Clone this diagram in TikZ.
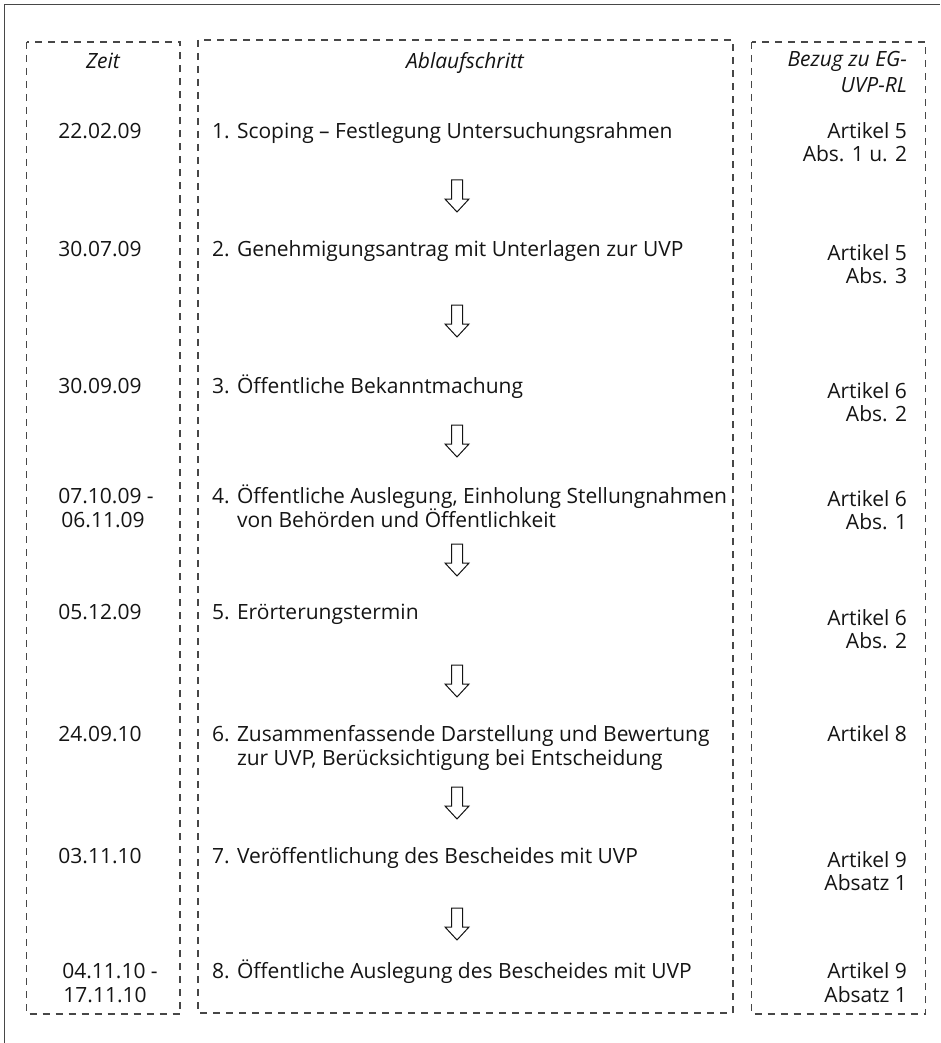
\documentclass[tikz,border=0pt]{standalone}
\usepackage{fontspec}
\setmainfont{Open Sans}
\begin{document}
\begin{tikzpicture}[x=1pt,y=-1pt,
  every node/.style={inner sep=0pt,outer sep=0pt,text=black!92,font=\fontsize{21}{24}\selectfont},
  colbox/.style={draw=black!72,line width=1.2pt,dash pattern=on 7pt off 6pt},
  frame/.style={draw=black!72,line width=1.6pt},
  hdr/.style={font=\fontsize{21}{24}\selectfont\itshape},
  datum/.style={anchor=base},
  nr/.style={anchor=base west},
  schritt/.style={anchor=base west},
  bezug/.style={anchor=base east},
  blockarrow/.style={draw=black!92,line width=1pt,fill=white,line join=miter}]
\useasboundingbox (0,0) rectangle (940,1043);
% outer frame (cut by the page edge)
\draw[frame] (4.5,1043) -- (4.5,4.5) -- (940,4.5);
% column boxes
\draw[colbox] (26.5,42) rectangle (180,1014);
\draw[colbox] (198,40) rectangle (733,1013);
\draw[colbox] (751.5,42) rectangle (925.5,1014);
% headers
\node[hdr,anchor=base] (hz) at (103,69) {Zeit};
\node[hdr,anchor=base] (ha) at (465,69) {Ablaufschritt};
\node[hdr,anchor=base east] (hb1) at (907,67) {Bezug zu EG-};
\node[hdr,anchor=base east] (hb2) at (907,93) {UVP-RL};
% dates
\node[datum] (d1) at (100,138.5) {22.02.09};
\node[datum] (d2) at (100,256.5) {30.07.09};
\node[datum] (d3) at (100,393.5) {30.09.09};
\node[datum] (d4a) at (106,503.5) {07.10.09 -};
\node[datum] (d4b) at (103,527) {06.11.09};
\node[datum] (d5) at (100,619.5) {05.12.09};
\node[datum] (d6) at (100,741.5) {24.09.10};
\node[datum] (d7) at (100,863.5) {03.11.10};
\node[datum] (d8a) at (110,978.5) {04.11.10 -};
\node[datum] (d8b) at (105,1002) {17.11.10};
% step numbers
\node[nr] (n1) at (212,138.5) {1.};
\node[nr] (n2) at (212,256.5) {2.};
\node[nr] (n3) at (212,393.5) {3.};
\node[nr] (n4) at (212,503.5) {4.};
\node[nr] (n5) at (212,619.5) {5.};
\node[nr] (n6) at (212,741.5) {6.};
\node[nr] (n7) at (212,863.5) {7.};
\node[nr] (n8) at (212,978.5) {8.};
% step texts
\node[schritt] (s1) at (237,138.5) {Scoping – Festlegung Untersuchungsrahmen};
\node[schritt] (s2) at (237,256.5) {Genehmigungsantrag mit Unterlagen zur UVP};
\node[schritt] (s3) at (237,393.5) {Öffentliche Bekanntmachung};
\node[schritt] (s4a) at (237,503.5) {Öffentliche Auslegung, Einholung Stellungnahmen};
\node[schritt] (s4b) at (237,527) {von Behörden und Öffentlichkeit};
\node[schritt] (s5) at (237,619.5) {Erörterungstermin};
\node[schritt] (s6a) at (237,741.5) {Zusammenfassende Darstellung und Bewertung};
\node[schritt] (s6b) at (237,765) {zur UVP, Berücksichtigung bei Entscheidung};
\node[schritt] (s7) at (237,863.5) {Veröffentlichung des Bescheides mit UVP};
\node[schritt] (s8) at (237,978.5) {Öffentliche Auslegung des Bescheides mit UVP};
% references
\node[bezug] (b1a) at (907,138.5) {Artikel 5};
\node[bezug] (b1b) at (907,161) {Abs. 1 u. 2};
\node[bezug] (b2a) at (907,260.5) {Artikel 5};
\node[bezug] (b2b) at (907,283) {Abs. 3};
\node[bezug] (b3a) at (907,398.5) {Artikel 6};
\node[bezug] (b3b) at (907,421) {Abs. 2};
\node[bezug] (b4a) at (907,506.5) {Artikel 6};
\node[bezug] (b4b) at (907,529) {Abs. 1};
\node[bezug] (b5a) at (907,625.5) {Artikel 6};
\node[bezug] (b5b) at (907,648) {Abs. 2};
\node[bezug] (b6) at (907,741.5) {Artikel 8};
\node[bezug] (b7a) at (907,867.5) {Artikel 9};
\node[bezug] (b7b) at (907,890) {Absatz 1};
\node[bezug] (b8a) at (907,978.5) {Artikel 9};
\node[bezug] (b8b) at (907,1002) {Absatz 1};
% block arrows
\foreach \t in {180,305,425,544,665,787,908}{
  \draw[blockarrow] (451.5,\t) -- ++(0,19) -- ++(-6.5,0) -- ++(12,13) -- ++(12,-13) -- ++(-6.5,0) -- ++(0,-19) -- cycle;
}
\end{tikzpicture}
\end{document}
